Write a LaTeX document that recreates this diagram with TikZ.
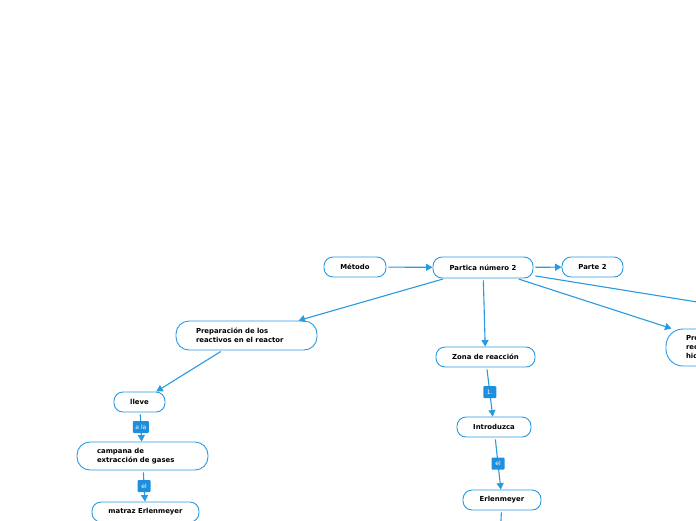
\documentclass[tikz,border=0pt]{standalone}
\usepackage{fontspec}
\setmainfont{DejaVu Sans}
\usetikzlibrary{arrows.meta}
\definecolor{mmblue}{HTML}{2A9AE0}
\definecolor{mmlabel}{HTML}{1E8FDC}
\begin{document}
\begin{tikzpicture}[x=1pt,y=-1pt,
  box/.style={draw=mmblue, line width=0.9pt, rounded corners=9pt, fill=white,
    font=\fontsize{6.9}{9}\selectfont\bfseries, minimum height=20pt, inner sep=0pt, text=black},
  tallbox/.style={box, rounded corners=13pt, align=left, inner xsep=20pt},
  conn/.style={draw=mmblue, line width=1.1pt, shorten <=2pt, -{Triangle[length=6.5pt,width=7pt]}},
  plain/.style={draw=mmblue, line width=1.1pt, shorten <=2pt},
  lab/.style={fill=mmlabel, text=white, font=\fontsize{6}{6}\selectfont, rounded corners=1pt,
    minimum width=13pt, minimum height=12pt, inner xsep=2.5pt, inner ysep=1pt}]
\useasboundingbox (0,0) rectangle (696,520);
\clip (0,0) rectangle (696,520);
\fill[white] (0,0) rectangle (696,520);

\node[box, minimum width=62pt] (metodo) at (355,267) {Método};
\node[box, minimum width=100pt, minimum height=21pt] (partica) at (483,267.5) {Partica número 2};
\node[box, minimum width=61pt] (parte) at (592.5,267) {Parte 2};
\node[tallbox, text width=101pt, minimum height=29pt] (prep) at (246.5,335.5) {Preparación de los\\reactivos en el reactor};
\node[box, minimum width=99pt] (zona) at (485.5,357) {Zona de reacción};
\node[tallbox, rounded corners=17pt, text width=88pt, minimum height=37pt] (pro) at (730,347.5) {Pro\\rec\\hid};
\node[box, minimum width=51pt] (lleve) at (139.5,402) {lleve};
\node[tallbox, text width=91pt, minimum height=28pt] (campana) at (142.5,456) {campana de\\extracción de gases};
\node[box, minimum width=107pt] (matraz) at (145.5,512) {matraz Erlenmeyer};
\node[box, minimum width=74pt] (intro) at (494,427) {Introduzca};
\node[box, minimum width=78pt] (erlen) at (502,500) {Erlenmeyer};
\coordinate (offright) at (800,318.6);
\coordinate (offdown) at (499,560);

\draw[conn] (metodo) -- (partica);
\draw[conn] (partica) -- (parte);
\draw[conn] (partica) -- (prep);
\draw[conn] (partica) -- (zona);
\draw[conn] (partica) -- (pro);
\draw[plain] (partica) -- (offright);
\draw[conn] (prep) -- (lleve);
\draw[conn] (lleve) -- node[lab]{a la} (campana);
\draw[conn] (campana) -- node[lab]{el} (matraz);
\draw[conn] (zona) -- node[lab]{1.} (intro);
\draw[conn] (intro) -- node[lab]{el} (erlen);
\draw[plain] (erlen) -- (offdown);
\end{tikzpicture}
\end{document}
